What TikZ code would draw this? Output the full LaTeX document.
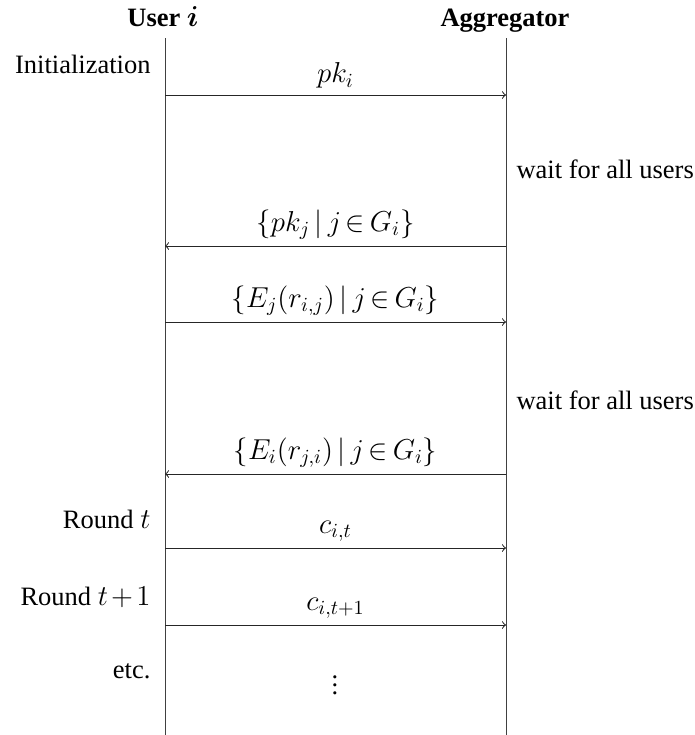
\documentclass[tikz,border=0pt]{standalone}
\usepackage{amsmath}
\usepackage{fontspec}
\setmainfont{Liberation Serif}[Scale=0.92]
% tighter spacing around binary operators and relations
\thickmuskip=3mu plus 2mu
\medmuskip=2mu plus 1mu
\begin{document}
\begin{tikzpicture}[x=0.5pt,y=-0.5pt,
  every node/.style={font=\fontsize{14.4}{17}\selectfont},
  lifeline/.style={draw=black!75,line width=0.5pt},
  msg/.style={->,draw=black!85,line width=0.5pt},
  msglabel/.style={midway,above},
  phase/.style={anchor=base east},
  note/.style={anchor=base west}]
\useasboundingbox (0,0) rectangle (695,735);

% participants
\node[anchor=base] (user) at (163,26) {\textbf{User {\boldmath$i$}}};
\node[anchor=base] (agg) at (505,26) {\textbf{Aggregator}};

% lifelines
\coordinate (utop) at (165,38);
\coordinate (ubot) at (165,735);
\coordinate (atop) at (506,38);
\coordinate (abot) at (506,735);
\draw[lifeline] (utop) -- (ubot);
\draw[lifeline] (atop) -- (abot);

% message anchors on the lifelines
\foreach \n/\y in {1/95,2/246,3/322,4/474,5/548,6/625}{
  \coordinate (u\n) at (165,\y);
  \coordinate (a\n) at (506,\y);
}

% messages
\draw[msg] (u1) -- (a1) node[msglabel] (m1) {$pk_i$};
\draw[msg] (a2) -- (u2) node[msglabel] (m2) {$\{pk_j \mid j \in G_i\}$};
\draw[msg] (u3) -- (a3) node[msglabel] (m3) {$\{E_j(r_{i,j}) \mid j \in G_i\}$};
\draw[msg] (a4) -- (u4) node[msglabel] (m4) {$\{E_i(r_{j,i}) \mid j \in G_i\}$};
\draw[msg] (u5) -- (a5) node[msglabel] (m5) {$c_{i,t}$};
\draw[msg] (u6) -- (a6) node[msglabel] (m6) {$c_{i,t+1}$};
\node (dots) at (335,679) {$\vdots$};

% phases on the user side
\node[phase] (init) at (157,73) {Initialization};
\node[phase] (rt) at (157,528) {Round $t$};
\node[phase] (rt1) at (157,605) {Round $t+1$};
\node[phase] (etc) at (157,678) {etc.};

% aggregator notes
\node[note] (w1) at (510,178) {wait for all users};
\node[note] (w2) at (510,409) {wait for all users};
\end{tikzpicture}
\end{document}
